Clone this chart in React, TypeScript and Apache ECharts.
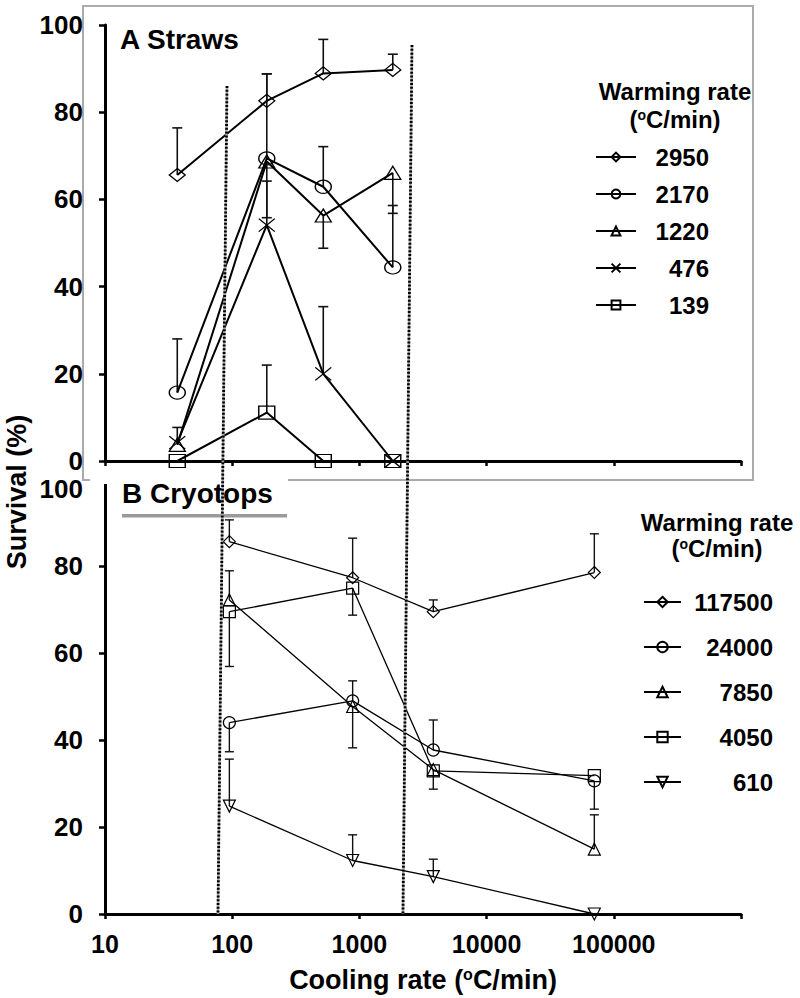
import React, { useEffect, useRef } from 'react';
import * as echarts from 'echarts';

const FONT = '"Liberation Sans", Arial, Helvetica, sans-serif';

// ---- Panel A: Straws ----
const coolingA = [37, 187, 520, 1830];
const warmingA = ['2950', '2170', '1220', '476', '139'];
const survA2950 = [65.6, 82.6, 88.9, 89.7];
const survA2170 = [15.7, 69.4, 62.9, 44.4];
const survA1220 = [3.7, 68.7, 56.3, 66.1];
const survA476 = [4.2, 54.1, 20.0, 0];
const survA139 = [0, 11.1, 0, 0];
// error bar end values (null = no bar)
const errA2950 = [76.4, 88.8, 96.7, 93.3];
const errA2170 = [28.0, 88.8, 72.1, 58.6];
const errA1220 = [null, 55.8, 48.8, 56.8];
const errA476 = [7.7, 64.2, 35.4, null];
const errA139 = [null, 22.0, null, null];

// ---- Panel B: Cryotops ----
const coolingB = [95, 885, 3810, 70300];
const warmingB = ['117500', '24000', '7850', '4050', '610'];
const survB117500 = [85.6, 77.3, 69.5, 78.5];
const survB24000 = [44.0, 49.0, 37.7, 30.6];
const survB7850 = [72.2, 47.7, 33.2, 14.9];
const survB4050 = [69.5, 74.9, 32.9, 31.8];
const survB610 = [24.8, 12.3, 8.6, 0];
const errB117500 = [90.6, 86.4, 72.2, 87.4];
const errB24000 = [37.3, 53.6, 44.6, 24.1];
const errB7850 = [78.9, 38.2, null, 22.8];
const errB4050 = [56.9, 68.7, 28.7, null];
const errB610 = [35.6, 18.2, 12.6, null];

// y-axis top tick value of panel B (its label sits a little lower in the figure)
const yTopB = 100;

// dotted divider lines: [top point in panel A coords, bottom point in panel B coords]
const dividerTopA = [[91, 86], [2590, 95.4]];
const dividerBottomB = [[77.3, 0], [2200, 0]];

const SYM_X = 'path://M0,0L10,10M10,0L0,10';
const SYM_DOWN = 'path://M0,0L10,0L5,9Z';

const symbolsA = ['diamond', 'circle', 'triangle', SYM_X, 'rect'];
const symbolsB = ['diamond', 'circle', 'triangle', 'rect', SYM_DOWN];

function lineSeries(name: string, xs: number[], ys: number[], symbol: string, idx: number, size: any, lw: number, bw: number) {
  return {
    type: 'line',
    name,
    xAxisIndex: idx,
    yAxisIndex: idx,
    data: xs.map((x, i) => [x, ys[i]]),
    symbol,
    symbolSize: size,
    showSymbol: true,
    lineStyle: { color: '#000', width: lw },
    itemStyle: { color: 'rgba(255,255,255,0)', borderColor: '#000', borderWidth: bw },
    emphasis: { disabled: true },
    silent: true,
    z: 3,
  };
}

function errSeries(idx: number, xs: number[], vals: number[][], ends: (number | null)[][], cap: number, lw: number) {
  const data: number[][] = [];
  vals.forEach((ys, s) =>
    ys.forEach((y, i) => {
      const e = ends[s][i];
      if (e !== null && e !== undefined) data.push([xs[i], y, e]);
    })
  );
  return {
    type: 'custom',
    xAxisIndex: idx,
    yAxisIndex: idx,
    data,
    encode: { x: 0, y: [1, 2] },
    clip: false,
    silent: true,
    z: 2,
    renderItem: (params: any, api: any) => {
      const p0 = api.coord([api.value(0), api.value(1)]);
      const p1 = api.coord([api.value(0), api.value(2)]);
      const st = { stroke: '#111', lineWidth: lw };
      return {
        type: 'group',
        children: [
          { type: 'line', shape: { x1: p0[0], y1: p0[1], x2: p1[0], y2: p1[1] }, style: st },
          { type: 'line', shape: { x1: p1[0] - cap, y1: p1[1], x2: p1[0] + cap, y2: p1[1] }, style: st },
        ],
      };
    },
  };
}

const richSup = (size: number, lh: number) => ({
  n: { fontSize: size, fontWeight: 'bold', fontFamily: FONT, color: '#000', lineHeight: lh },
  s: { fontSize: Math.round(size * 0.58), fontWeight: 'bold', fontFamily: FONT, color: '#000', lineHeight: Math.round(size * 0.58), verticalAlign: 'top' },
});

export default function App() {
  const ref = useRef<HTMLDivElement>(null);
  useEffect(() => {
    if (!ref.current) return;
    const chart = echarts.init(ref.current, null, { renderer: 'svg' });

    const axisLineStyle = { color: '#000', width: 3 };
    const yAxisBase = (gi: number) => ({
      type: 'value',
      gridIndex: gi,
      min: 0,
      max: 100,
      interval: 20,
      axisLine: { show: true, lineStyle: axisLineStyle },
      axisTick: { show: true, length: 6, lineStyle: { color: '#000', width: 2.5 } },
      axisLabel: {
        fontSize: 26,
        lineHeight: 17,
        fontWeight: 'bold',
        color: '#000',
        fontFamily: FONT,
        margin: 22,
        formatter: (v: number) => (gi === 1 && v === yTopB ? '' : String(v)),
      },
      splitLine: { show: false },
    });

    const seriesA = [survA2950, survA2170, survA1220, survA476, survA139];
    const errsA = [errA2950, errA2170, errA1220, errA476, errA139];
    const seriesB = [survB117500, survB24000, survB7850, survB4050, survB610];
    const errsB = [errB117500, errB24000, errB7850, errB4050, errB610];

    const legendCommon = {
      orient: 'vertical',
      padding: 0,
      selectedMode: false,
      formatter: (n: string) => `{r|${n}}`,
    };

    chart.setOption({
      animation: false,
      grid: [
        { left: 105, top: 25, width: 636, height: 436 },
        { left: 105, top: 479, width: 636, height: 435 },
      ],
      xAxis: [
        {
          type: 'log',
          logBase: 10,
          gridIndex: 0,
          min: 10,
          max: 1000000,
          axisLine: { lineStyle: axisLineStyle },
          axisTick: { show: true, length: 5, lineStyle: { color: '#000', width: 2.5 } },
          axisLabel: { show: false },
          splitLine: { show: false },
          minorTick: { show: false },
        },
        {
          type: 'log',
          logBase: 10,
          gridIndex: 1,
          min: 10,
          max: 1000000,
          axisLine: { lineStyle: axisLineStyle },
          axisTick: { show: true, length: 5, lineStyle: { color: '#000', width: 2.5 } },
          axisLabel: {
            fontSize: 25,
            fontWeight: 'bold',
            color: '#000',
            fontFamily: FONT,
            margin: 17,
            formatter: (v: number) => (Math.round(v) >= 1000000 ? '' : String(Math.round(v))),
          },
          splitLine: { show: false },
          minorTick: { show: false },
          name: '{n|Cooling rate (}{s|o}{n|C/min)}',
          nameLocation: 'middle',
          nameGap: 52,
          nameTextStyle: { rich: richSup(27, 28) },
        },
      ],
      yAxis: [yAxisBase(0), yAxisBase(1)],
      legend: [
        {
          ...legendCommon,
          data: warmingA,
          left: 595,
          top: 145,
          itemWidth: 40,
          itemHeight: 11,
          itemGap: 13,
          textStyle: { rich: { r: { width: 68, align: 'right', fontSize: 24, fontWeight: 'bold', fontFamily: FONT, color: '#000', lineHeight: 24 } } },
        },
        {
          ...legendCommon,
          data: warmingB,
          left: 643,
          top: 590,
          itemWidth: 37,
          itemHeight: 13,
          itemGap: 21,
          textStyle: { rich: { r: { width: 87, align: 'right', fontSize: 24, fontWeight: 'bold', fontFamily: FONT, color: '#000', lineHeight: 24 } } },
        },
      ],
      series: [
        errSeries(0, coolingA, seriesA, errsA, 5, 1.6),
        errSeries(1, coolingB, seriesB, errsB, 4.5, 1.4),
        ...warmingA.map((n, i) => lineSeries(n, coolingA, seriesA[i], symbolsA[i], 0, [16, 13], 2, 1.3)),
        ...warmingB.map((n, i) => lineSeries(n, coolingB, seriesB[i], symbolsB[i], 1, 12, 1.3, 1.2)),
      ],
    });

    const toPxA = (p: number[]) => chart.convertToPixel({ gridIndex: 0 }, p) as number[];
    const toPxB = (p: number[]) => chart.convertToPixel({ gridIndex: 1 }, p) as number[];

    const dividers: any[] = [];
    dividerTopA.forEach((pt, i) => {
      const a = toPxA(pt);
      const b = toPxB(dividerBottomB[i]);
      const shape = { x1: a[0], y1: a[1], x2: b[0], y2: b[1] };
      dividers.push({ type: 'line', z: 10, silent: true, shape, style: { stroke: '#aaaaaa', lineWidth: 2.5 } });
      dividers.push({ type: 'line', z: 11, silent: true, shape, style: { stroke: '#000', lineWidth: 2.8, lineDash: [2, 1.8] } });
    });

    const txt = (text: string, x: number, y: number, size: number, align = 'left', extra: any = {}) => ({
      type: 'text',
      x,
      y,
      silent: true,
      ...extra,
      style: { text, fontSize: size, fontWeight: 'bold', fontFamily: FONT, fill: '#000', align, verticalAlign: 'middle' },
    });
    const supTxt = (x: number, y: number, size: number) => ({
      type: 'text',
      x,
      y,
      silent: true,
      style: { text: '{n|(}{s|o}{n|C/min)}', rich: richSup(size, size - 2), align: 'center', verticalAlign: 'middle' },
    });

    const topB = toPxB([10, yTopB]);

    chart.setOption({
      graphic: [
        { type: 'rect', silent: true, z: 0, shape: { x: 83, y: 6, width: 670, height: 474 }, style: { fill: 'none', stroke: '#aaa', lineWidth: 2 } },
        { type: 'rect', silent: true, z: 1, shape: { x: 90, y: 476, width: 198, height: 8 }, style: { fill: '#fff' } },
        { type: 'rect', silent: true, z: 1, shape: { x: 122, y: 514, width: 165, height: 3.5 }, style: { fill: '#9a9a9a' } },
        txt(String(yTopB), topB[0] - 22, topB[1] + 10, 26, 'right'),
        txt('A Straws', 120, 39, 28),
        txt('B Cryotops', 122, 493, 28),
        txt('Warming rate', 675, 91, 24, 'center'),
        supTxt(675, 119, 24),
        txt('Warming rate', 717, 522, 24, 'center'),
        supTxt(717, 548, 24),
        txt('Survival (%)', 17, 492, 27, 'center', { rotation: Math.PI / 2 }),
        ...dividers,
      ],
    });

    return () => chart.dispose();
  }, []);

  return <div ref={ref} style={{ position: 'absolute', left: 0, top: 0, width: 800, height: 998 }} />;
}
